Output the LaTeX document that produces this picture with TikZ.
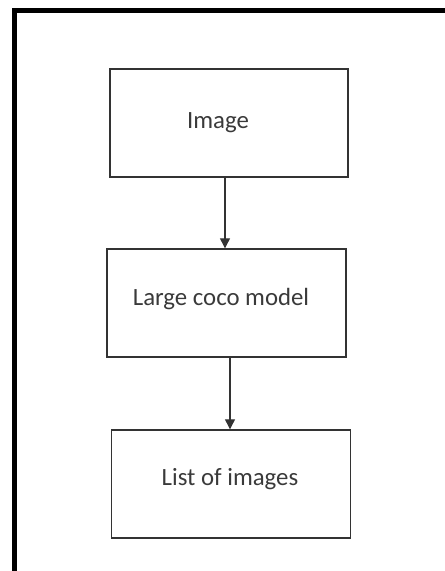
\documentclass[tikz,border=0pt]{standalone}
\usepackage{fontspec}
\setmainfont{Carlito}
\usetikzlibrary{arrows.meta}
\definecolor{ink}{HTML}{333333}
\definecolor{txt}{HTML}{3A3A3A}
\tikzset{
  x=1pt, y=-1pt,
  flowbox/.style={draw=ink, line width=1.4pt, rectangle, inner sep=0pt},
  boxtext/.style={text=txt, font=\fontsize{24.8}{29}\selectfont, inner sep=0pt},
  arr/.style={draw=ink, line width=1.2pt, -{Triangle[width=10pt,length=10pt]}},
  frame/.style={draw=black, line width=4.5pt}
}
\begin{document}
\begin{tikzpicture}
\useasboundingbox (0,0) rectangle (445,571);
% outer frame (only the top and left edges fall on the page)
\draw[frame] (14.5,600) -- (14.5,10.5) -- (480,10.5);
% process boxes
\node[flowbox, minimum width=238pt, minimum height=108pt] (b1) at (229,123) {};
\node[flowbox, minimum width=239pt, minimum height=108pt] (b2) at (226.5,303) {};
\node[flowbox, minimum width=239pt, minimum height=108pt] (b3) at (231,484) {};
% labels
\node[boxtext] (t1) at (218,123) {Image};
\node[boxtext] (t2) at (221,299) {Large coco model};
\node[boxtext] (t3) at (230,479) {List of images};
% connectors
\draw[arr] ([xshift=-4pt]b1.south) -- ([xshift=-1.5pt]b2.north);
\draw[arr] ([xshift=3.5pt]b2.south) -- ([xshift=-1pt]b3.north);
\end{tikzpicture}
\end{document}
